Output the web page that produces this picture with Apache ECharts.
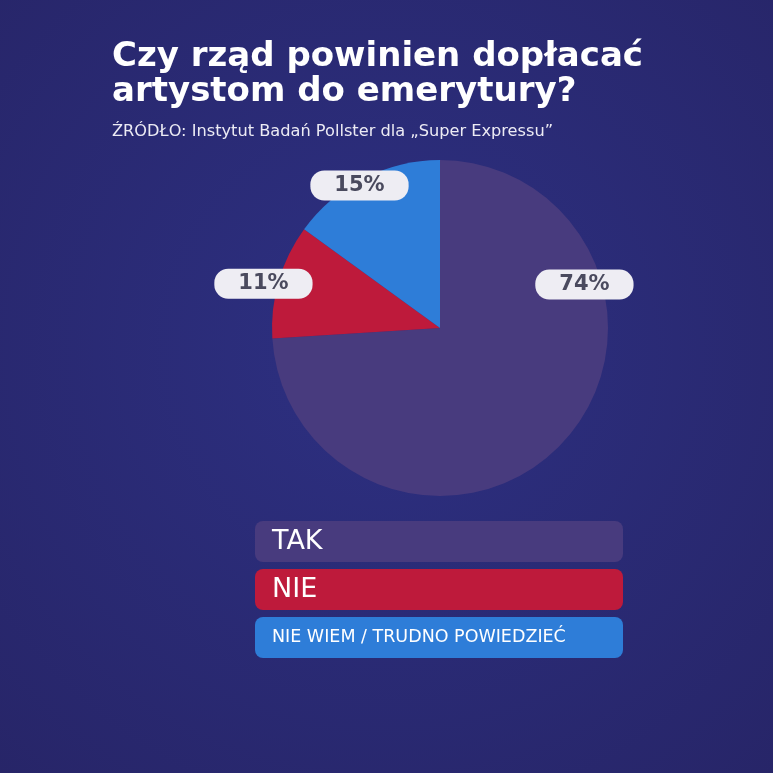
<!DOCTYPE html>
<html>
<head>
<meta charset="utf-8">
<script src="https://cdn.jsdelivr.net/npm/echarts@6/dist/echarts.min.js"></script>
<style>
html,body{margin:0;padding:0;background:#2a2c78;}
#chart{width:773px;height:773px;}
</style>
</head>
<body>
<div id="chart"></div>
<script>
const titleText = 'Czy rząd powinien dopłacać\nartystom do emerytury?';
const sourceText = 'ŹRÓDŁO: Instytut Badań Pollster dla „Super Expressu”';
const categories = ['TAK', 'NIE', 'NIE WIEM / TRUDNO POWIEDZIEĆ'];
const values = [74, 11, 15];
const colors = ['#483b7e', '#be1a3b', '#2e7dd8'];
const legendFontSizes = [27, 27, 17.5];
const labelOffsets = [[81, -103], [-93, -20], [-41, -65]];

const chart = echarts.init(document.getElementById('chart'), null, {renderer: 'canvas'});
const FONT = '"DejaVu Sans", Roboto, sans-serif';

const pieData = categories.map((name, i) => ({
  name: name,
  value: values[i],
  itemStyle: {color: colors[i]},
  label: {offset: labelOffsets[i]}
}));

const legendData = categories.map((name, i) => ({
  name: name,
  icon: 'none',
  textStyle: {
    color: '#ffffff',
    fontSize: legendFontSizes[i],
    fontFamily: FONT,
    fontWeight: 'normal',
    backgroundColor: colors[i],
    borderRadius: 8,
    width: 338,
    height: 41,
    lineHeight: 44,
    padding: [0, 13, 0, 17]
  }
}));

chart.setOption({
  backgroundColor: {
    type: 'radial', x: 0.5, y: 0.45, r: 0.75,
    colorStops: [
      {offset: 0, color: '#2d3082'},
      {offset: 1, color: '#272568'}
    ]
  },
  animation: false,
  title: [
    {
      text: titleText,
      left: 107,
      top: 35,
      textStyle: {
        color: '#ffffff',
        fontFamily: FONT,
        fontWeight: 'bold',
        fontSize: 34,
        lineHeight: 35
      }
    },
    {
      text: sourceText,
      left: 107,
      top: 119,
      textStyle: {
        color: '#ecebf4',
        fontFamily: FONT,
        fontWeight: 'normal',
        fontSize: 16.2
      }
    }
  ],
  legend: {
    orient: 'vertical',
    left: 245,
    top: 516,
    itemWidth: 0,
    itemHeight: 41,
    itemGap: 7,
    selectedMode: false,
    data: legendData
  },
  series: [{
    type: 'pie',
    center: [440, 328],
    radius: 168,
    startAngle: 90,
    clockwise: true,
    silent: true,
    emphasis: {disabled: true},
    labelLine: {show: false},
    label: {
      show: true,
      position: 'inside',
      formatter: '{c}%',
      color: '#4a4a5e',
      fontFamily: FONT,
      fontWeight: 'bold',
      fontSize: 21,
      backgroundColor: '#eeedf3',
      borderRadius: 14,
      padding: [5, 24, 4, 24]
    },
    data: pieData
  }]
});
</script>
</body>
</html>
